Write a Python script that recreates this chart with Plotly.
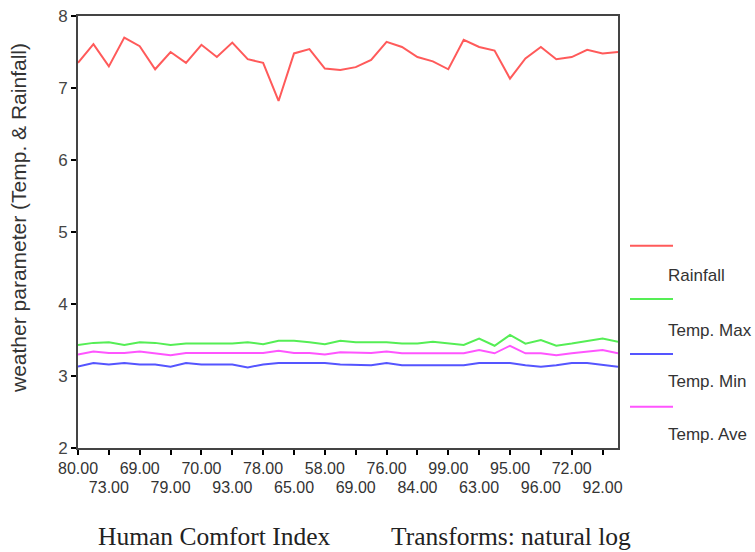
import plotly.graph_objects as go

# ---- data ----
rainfall = [7.35, 7.61, 7.30, 7.70, 7.58, 7.26, 7.50, 7.35, 7.60, 7.43, 7.63, 7.40,
            7.35, 6.82, 7.48, 7.54, 7.27, 7.25, 7.29, 7.39, 7.64, 7.57, 7.43, 7.37,
            7.26, 7.67, 7.57, 7.52, 7.13, 7.41, 7.57, 7.40, 7.43, 7.53, 7.48, 7.50]
temp_max = [3.43, 3.46, 3.47, 3.43, 3.47, 3.46, 3.43, 3.45, 3.45, 3.45, 3.45, 3.47,
            3.44, 3.49, 3.49, 3.47, 3.44, 3.49, 3.47, 3.47, 3.47, 3.45, 3.45, 3.475,
            3.45, 3.43, 3.52, 3.42, 3.57, 3.45, 3.50, 3.42, 3.45, 3.49, 3.52, 3.475]
temp_min = [3.13, 3.18, 3.16, 3.18, 3.16, 3.16, 3.13, 3.18, 3.16, 3.16, 3.16, 3.12,
            3.16, 3.18, 3.18, 3.18, 3.18, 3.16, 3.15, 3.15, 3.18, 3.15, 3.15, 3.15,
            3.15, 3.15, 3.18, 3.18, 3.18, 3.15, 3.13, 3.15, 3.18, 3.18, 3.15, 3.13]
temp_ave = [3.30, 3.34, 3.32, 3.32, 3.34, 3.32, 3.29, 3.32, 3.32, 3.32, 3.32, 3.32,
            3.32, 3.35, 3.32, 3.32, 3.30, 3.33, 3.32, 3.32, 3.34, 3.315, 3.315, 3.315,
            3.315, 3.315, 3.36, 3.315, 3.42, 3.315, 3.315, 3.29, 3.315, 3.34, 3.36, 3.315]

# tick labels shown every other case (alternating two rows)
row1_labels = ["80.00", "69.00", "70.00", "78.00", "58.00", "76.00", "99.00", "95.00", "72.00"]
row2_labels = ["73.00", "79.00", "93.00", "65.00", "69.00", "84.00", "63.00", "96.00", "92.00"]

series_names = ["Rainfall", "Temp. Max", "Temp. Min", "Temp. Ave"]
series_colors = ["#ff5a5a", "#55ee55", "#5555ff", "#ff55ff"]
series_values = [rainfall, temp_max, temp_min, temp_ave]

x = list(range(len(rainfall)))
row1_pos = [i * 4 for i in range(len(row1_labels))]
row2_pos = [i * 4 + 2 for i in range(len(row2_labels))]
all_pos = sorted(row1_pos + row2_pos)

fig = go.Figure()
for name, col, vals in zip(series_names, series_colors, series_values):
    fig.add_trace(go.Scatter(x=x, y=vals, mode="lines", name=name,
                             line=dict(color=col, width=2), showlegend=False))

# invisible trace on overlay axis for second row of labels
fig.add_trace(go.Scatter(x=[0, 35], y=[None, None], xaxis="x2", showlegend=False,
                         hoverinfo="skip"))

tickfont = dict(family="Liberation Sans, Arial", size=16, color="#333333")

fig.update_layout(
    width=755, height=552,
    margin=dict(l=78, r=137, t=16, b=104),
    paper_bgcolor="white", plot_bgcolor="white",
    xaxis=dict(range=[0, 35], tickmode="array", automargin=False,
               tickvals=all_pos,
               ticktext=[row1_labels[p // 4] if p % 4 == 0 else "" for p in all_pos],
               ticks="outside", ticklen=5, tickwidth=2, tickcolor="black",
               showline=True, linecolor="#444444", linewidth=2, mirror=True,
               showgrid=False, zeroline=False, tickfont=tickfont),
    xaxis2=dict(range=[0, 35], overlaying="x", side="bottom", anchor="y",
                automargin=False,
                tickmode="array", tickvals=row2_pos, ticktext=row2_labels,
                ticks="", showline=False, showgrid=False, zeroline=False,
                ticklabelstandoff=28, tickfont=tickfont),
    yaxis=dict(range=[2, 8], tickmode="array", tickvals=[2, 3, 4, 5, 6, 7, 8],
               automargin=False,
               ticks="outside", ticklen=5, tickwidth=2, tickcolor="black",
               showline=True, linecolor="#444444", linewidth=2, mirror=True,
               showgrid=False, zeroline=False,
               tickfont=dict(family="Liberation Sans, Arial", size=17, color="#444444")),
)

def px_to_paper_x(px):
    return (px - 78) / 540.0
def px_to_paper_y(py):
    return (448 - py) / 432.0

# y-axis title
fig.add_annotation(xref="paper", yref="paper", x=px_to_paper_x(18), y=px_to_paper_y(218),
                   text="weather parameter (Temp. & Rainfall)", textangle=-90,
                   showarrow=False, xanchor="center", yanchor="middle",
                   font=dict(family="Liberation Sans, Arial", size=21, color="#333333"))

# custom legend: line sample above, label below (positions in page pixels)
leg_line_y = [245.7, 299, 354, 406.7]
leg_text_y = [275, 330, 381.7, 434]
for name, col, ly, ty in zip(series_names, series_colors, leg_line_y, leg_text_y):
    fig.add_shape(type="line", xref="paper", yref="paper",
                  x0=px_to_paper_x(630), x1=px_to_paper_x(673),
                  y0=px_to_paper_y(ly), y1=px_to_paper_y(ly),
                  line=dict(color=col, width=2))
    fig.add_annotation(xref="paper", yref="paper", x=px_to_paper_x(666),
                       y=px_to_paper_y(ty), text=name, showarrow=False,
                       xanchor="left", yanchor="middle",
                       font=dict(family="Liberation Sans, Arial", size=17, color="#333333"))

serif = dict(family="Liberation Serif, Times New Roman", size=25.5, color="#222222")
fig.add_annotation(xref="paper", yref="paper", x=px_to_paper_x(214), y=px_to_paper_y(536),
                   text="Human Comfort Index", showarrow=False,
                   xanchor="center", yanchor="middle", font=serif)
fig.add_annotation(xref="paper", yref="paper", x=px_to_paper_x(511), y=px_to_paper_y(536),
                   text="Transforms: natural log", showarrow=False,
                   xanchor="center", yanchor="middle", font=serif)

fig.write_html("out.html", config={"displayModeBar": False},
               post_script="document.body.style.margin='0';document.body.style.overflow='hidden';")
